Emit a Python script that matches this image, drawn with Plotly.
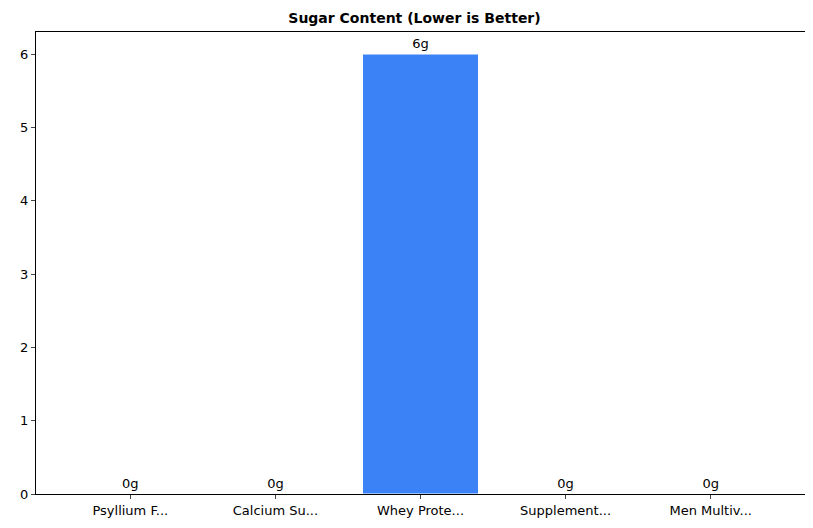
import plotly.graph_objects as go

categories = ["Psyllium F...", "Calcium Su...", "Whey Prote...", "Supplement...", "Men Multiv..."]
sugar = [0, 0, 6, 0, 0]
labels = [f"{v}g" for v in sugar]

fig = go.Figure()
fig.add_trace(go.Bar(
    x=list(range(len(categories))), y=sugar, width=0.8,
    marker=dict(color="#3b82f6", line=dict(color="white", width=1)),
    text=labels, textposition="outside", cliponaxis=False,
    textfont=dict(size=13, color="black"),
))
fig.update_layout(
    width=813, height=528,
    margin=dict(l=21, r=16, t=24, b=42),
    plot_bgcolor="white", paper_bgcolor="white",
    font=dict(family="DejaVu Sans", size=13, color="black"),
    title=dict(text="<b>Sugar Content (Lower is Better)</b>", x=0.5, xanchor="center",
               y=1 - 10/528, yanchor="middle", font=dict(size=14)),
    showlegend=False,
)
fig.update_xaxes(range=[-0.65, 4.65], tickvals=list(range(len(categories))), ticktext=categories,
                 showline=True, linecolor="black", mirror=True, ticks="outside", ticklen=4,
                 showgrid=False, zeroline=False)
fig.update_yaxes(range=[0, 6.3], dtick=1, showline=True, linecolor="black", mirror=True,
                 ticks="outside", ticklen=4, showgrid=False, zeroline=False)
fig.write_html("out.html")
